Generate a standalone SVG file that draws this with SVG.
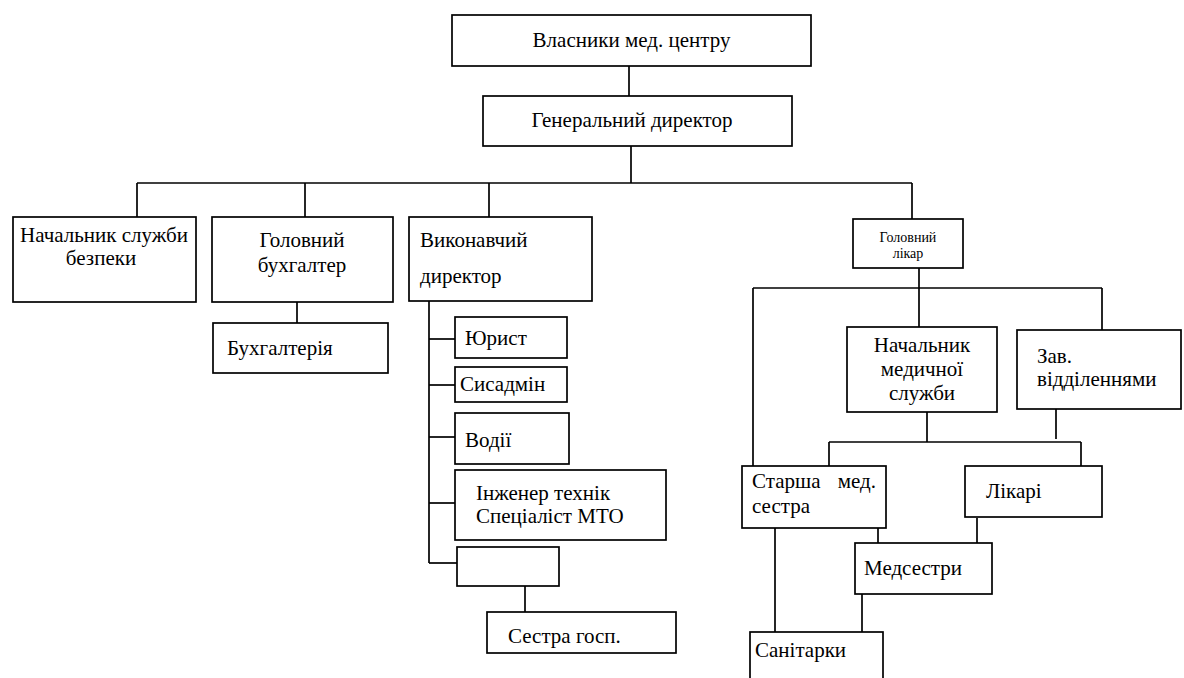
<svg xmlns="http://www.w3.org/2000/svg" width="1184" height="678" viewBox="0 0 1184 678">
<style>
rect.n{fill:#fff;stroke:#000;stroke-width:1.7}
#connectors line{stroke:#000;stroke-width:1.7}
.c{text-anchor:middle}
.s{font-size:14px}
</style>
<rect width="1184" height="678" fill="#fff"/>
<g id="connectors">
<line x1="629" y1="66" x2="629" y2="96"/>
<line x1="631" y1="146" x2="631" y2="183"/>
<line x1="137" y1="183" x2="912" y2="183"/>
<line x1="137" y1="183" x2="137" y2="217"/>
<line x1="305" y1="183" x2="305" y2="217"/>
<line x1="489" y1="183" x2="489" y2="217"/>
<line x1="912" y1="183" x2="912" y2="219"/>
<line x1="297" y1="302" x2="297" y2="323"/>
<line x1="429" y1="301" x2="429" y2="563"/>
<line x1="429" y1="339" x2="455" y2="339"/>
<line x1="429" y1="385" x2="455" y2="385"/>
<line x1="429" y1="437" x2="455" y2="437"/>
<line x1="429" y1="503" x2="455" y2="503"/>
<line x1="429" y1="563" x2="457" y2="563"/>
<line x1="525" y1="586" x2="525" y2="612"/>
<line x1="919" y1="268" x2="919" y2="327"/>
<line x1="753" y1="288" x2="1102" y2="288"/>
<line x1="753" y1="288" x2="753" y2="466"/>
<line x1="1102" y1="288" x2="1102" y2="330"/>
<line x1="927" y1="412" x2="927" y2="442"/>
<line x1="1056" y1="409" x2="1056" y2="439"/>
<line x1="829" y1="442" x2="1081" y2="442"/>
<line x1="829" y1="442" x2="829" y2="466"/>
<line x1="1081" y1="442" x2="1081" y2="466"/>
<line x1="775" y1="528" x2="775" y2="632"/>
<line x1="878" y1="526" x2="878" y2="543"/>
<line x1="977" y1="518" x2="977" y2="543"/>
<line x1="862" y1="594" x2="862" y2="632"/>
</g>
<g font-family="Liberation Serif, DejaVu Serif, serif" font-size="21" fill="#000">
<g id="owners"><rect class="n" x="452" y="15" width="359" height="51"/><text class="c" x="631.5" y="47">Власники мед. центру</text></g>
<g id="gendir"><rect class="n" x="483" y="96" width="309" height="50"/><text class="c" x="632" y="127">Генеральний директор</text></g>
<g id="security"><rect class="n" x="13" y="217" width="183" height="85"/><text class="c" x="104" y="242">Начальник служби</text><text class="c" x="101" y="265">безпеки</text></g>
<g id="chiefacc"><rect class="n" x="212" y="217" width="181" height="85"/><text class="c" x="302" y="247">Головний</text><text class="c" x="302" y="272">бухгалтер</text></g>
<g id="execdir"><rect class="n" x="409" y="217" width="183" height="84"/><text x="420" y="247">Виконавчий</text><text x="420" y="283">директор</text></g>
<g id="accounting"><rect class="n" x="213" y="323" width="175" height="50"/><text x="227" y="355">Бухгалтерія</text></g>
<g id="lawyer"><rect class="n" x="455" y="317" width="112" height="41"/><text x="465" y="345">Юрист</text></g>
<g id="sysadmin"><rect class="n" x="455" y="367" width="112" height="35"/><text x="460" y="391">Сисадмін</text></g>
<g id="drivers"><rect class="n" x="455" y="413" width="114" height="51"/><text x="465" y="447">Водії</text></g>
<g id="engineer"><rect class="n" x="455" y="470" width="211" height="70"/><text x="476" y="500">Інженер технік</text><text x="476" y="523">Спеціаліст МТО</text></g>
<g id="empty"><rect class="n" x="457" y="547" width="102" height="39"/></g>
<g id="housekeeper"><rect class="n" x="487" y="612" width="189" height="41"/><text x="508" y="643">Сестра госп.</text></g>
<g id="chiefdoc"><rect class="n" x="853" y="219" width="110" height="49"/><text class="c s" x="908" y="242">Головний</text><text class="c s" x="908" y="258">лікар</text></g>
<g id="medhead"><rect class="n" x="847" y="327" width="150" height="85"/><text class="c" x="922" y="352">Начальник</text><text class="c" x="922" y="376">медичної</text><text class="c" x="922" y="400">служби</text></g>
<g id="depthead"><rect class="n" x="1017" y="330" width="164" height="79"/><text x="1037" y="363">Зав.</text><text x="1037" y="386">відділеннями</text></g>
<g id="headnurse"><rect class="n" x="742" y="466" width="144" height="62"/><text x="752" y="488">Старша</text><text x="876" y="488" text-anchor="end">мед.</text><text x="752" y="513">сестра</text></g>
<g id="doctors"><rect class="n" x="965" y="466" width="137" height="51"/><text x="986" y="498">Лікарі</text></g>
<g id="nurses"><rect class="n" x="855" y="543" width="137" height="51"/><text x="864" y="575">Медсестри</text></g>
<g id="orderlies"><rect class="n" x="750" y="632" width="133" height="60"/><text x="755" y="657">Санітарки</text></g>
</g>
</svg>
